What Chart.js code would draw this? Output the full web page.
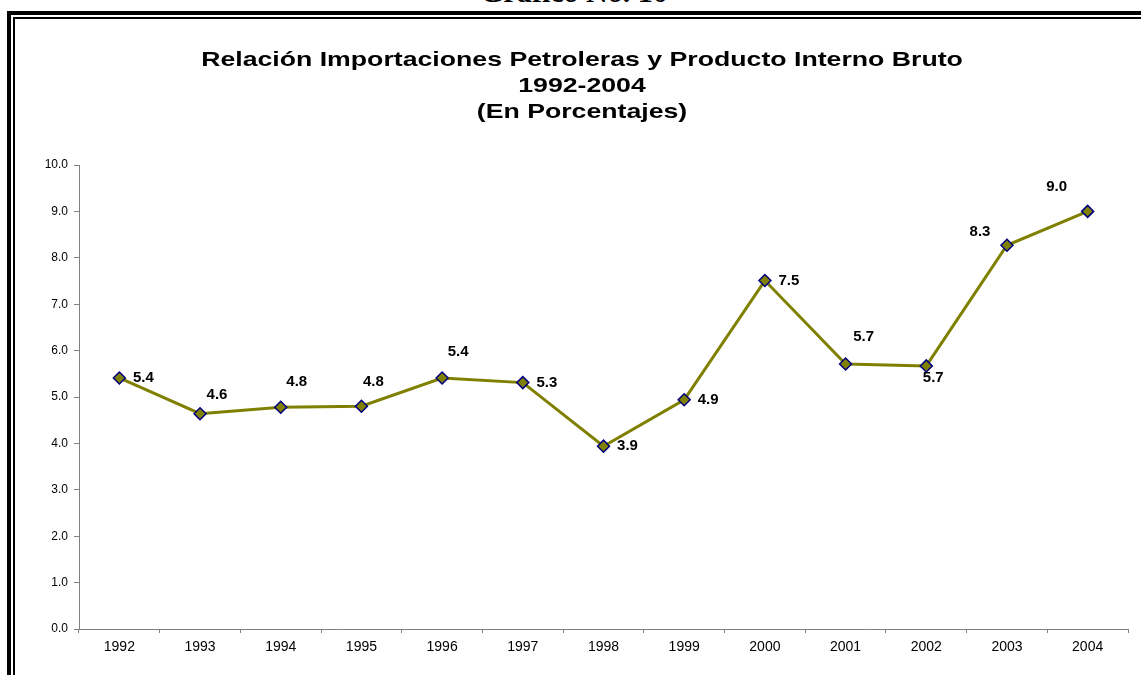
<!DOCTYPE html>
<html>
<head>
<meta charset="utf-8">
<script src="https://cdn.jsdelivr.net/npm/chart.js@4.4.1/dist/chart.umd.min.js"></script>
<style>
  html, body { margin: 0; padding: 0; background: #fff; overflow: hidden; }
  body { width: 1141px; height: 675px; position: relative; }
  .heading {
    position: absolute; left: 0; width: 1148px; top: -23px;
    text-align: center; font: bold 30px "Liberation Serif", "Times New Roman", serif;
    line-height: 30px; color: #000;
  }
  .frame-outer {
    position: absolute; left: 7px; top: 11px; right: -20px; bottom: -20px;
    border-top: 4px solid #000; border-left: 4px solid #000;
  }
  .frame-inner {
    position: absolute; left: 13px; top: 17px; right: -20px; bottom: -20px;
    border-top: 2px solid #000; border-left: 2px solid #000;
  }
  .chart-box { position: absolute; left: 16px; top: 20px; width: 1125px; height: 655px; }
</style>
</head>
<body>
<div class="heading">Gráfico No. 10</div>
<div class="frame-outer"></div>
<div class="frame-inner"></div>
<div class="chart-box"><canvas id="chart"></canvas></div>
<script>
  // Chart data
  const years = ['1992', '1993', '1994', '1995', '1996', '1997', '1998', '1999', '2000', '2001', '2002', '2003', '2004'];
  const ratio = [5.41, 4.64, 4.78, 4.8, 5.41, 5.31, 3.94, 4.94, 7.51, 5.71, 5.67, 8.27, 9.0];
  const yTicks = [0, 1, 2, 3, 4, 5, 6, 7, 8, 9, 10];
  const titleLines = ['Relación Importaciones Petroleras y Producto Interno Bruto', '1992-2004', '(En Porcentajes)'];

  // where each value label sits relative to its point (dx, dy)
  const labelOffsets = [
    [24, 0], [17, -19], [16, -25], [12, -24], [16, -26], [24, 0], [24, 0],
    [24, 0], [24, 0], [18, -27], [7, 12], [-27, -13], [-31, -25]
  ];

  const FONT = '"Liberation Sans", Arial, sans-serif';

  // Title drawn by hand: the original is wide, so stretch it sideways
  const wideTitle = {
    id: 'wideTitle',
    afterDraw(chart) {
      const ctx = chart.ctx;
      const cx = 566;
      const baselines = [46, 72, 98];
      ctx.save();
      ctx.font = 'bold 21px ' + FONT;
      ctx.fillStyle = '#000';
      ctx.textAlign = 'center';
      ctx.textBaseline = 'alphabetic';
      titleLines.forEach(function(line, i) {
        ctx.save();
        ctx.translate(cx, baselines[i]);
        ctx.scale(1.27, 1);
        ctx.fillText(line, 0, 0);
        ctx.restore();
      });
      ctx.restore();
    }
  };

  // Draw the value labels next to each point
  const valueLabels = {
    id: 'valueLabels',
    afterDatasetsDraw(chart) {
      const ctx = chart.ctx;
      const meta = chart.getDatasetMeta(0);
      ctx.save();
      ctx.font = 'bold 15px ' + FONT;
      ctx.fillStyle = '#000';
      ctx.textAlign = 'center';
      ctx.textBaseline = 'middle';
      meta.data.forEach(function(pt, i) {
        const off = labelOffsets[i];
        ctx.fillText(ratio[i].toFixed(1), pt.x + off[0], pt.y + off[1]);
      });
      ctx.restore();
    }
  };

  const ctx = document.getElementById('chart').getContext('2d');
  const chart = new Chart(ctx, {
    type: 'line',
    data: {
      labels: years,
      datasets: [{
        data: ratio,
        borderColor: '#808000',
        borderWidth: 3,
        tension: 0,
        pointStyle: 'rectRot',
        pointRadius: 6,
        pointHoverRadius: 6,
        pointBackgroundColor: '#808000',
        pointBorderColor: '#000080',
        pointBorderWidth: 1.5
      }]
    },
    options: {
      responsive: true,
      maintainAspectRatio: false,
      animation: false,
      layout: { padding: { left: 7, right: 13, top: 145, bottom: 6 } },
      plugins: {
        legend: { display: false },
        tooltip: { enabled: false },
        title: { display: false }
      },
      scales: {
        x: {
          offset: true,
          grid: { display: true, drawOnChartArea: false, offset: true, tickLength: 4, color: '#808080' },
          border: { color: '#808080', width: 1 },
          ticks: {
            color: '#000',
            padding: 6,
            maxRotation: 0,
            font: { family: FONT, size: 14 }
          },
          afterFit(scale) { scale.height = 40; }
        },
        y: {
          min: yTicks[0],
          max: yTicks[yTicks.length - 1],
          afterBuildTicks(scale) { scale.ticks = yTicks.map(function(v) { return { value: v }; }); },
          grid: { display: true, drawOnChartArea: false, tickLength: 5, color: '#808080' },
          border: { color: '#808080', width: 1 },
          ticks: {
            color: '#000',
            padding: 6,
            font: { family: FONT, size: 12 },
            callback: function(v) { return Number(v).toFixed(1); }
          },
          afterFit(scale) { scale.width = 56; }
        }
      }
    },
    plugins: [valueLabels, wideTitle]
  });
</script>
</body>
</html>
